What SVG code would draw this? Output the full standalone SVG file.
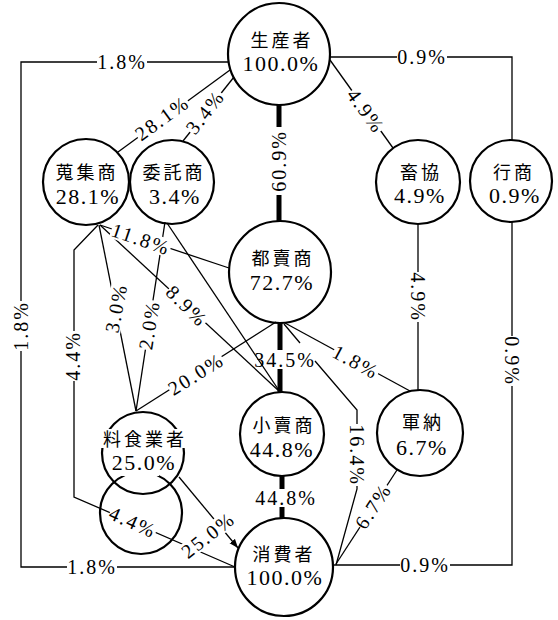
<svg xmlns="http://www.w3.org/2000/svg" width="558" height="620" viewBox="0 0 558 620">
<style>
.node circle{fill:none;stroke:#000;stroke-width:2.2}
.nm{font-family:"Liberation Serif","Noto Sans CJK JP",serif;font-size:18px;letter-spacing:3px;text-anchor:middle;fill:#000}
.pct{font-family:"Liberation Serif",serif;font-size:22px;letter-spacing:1.5px;text-anchor:middle;fill:#000}
.ln{fill:none;stroke:#000;stroke-width:1.3}
.bar{stroke:#000;stroke-width:5;fill:none}
.lb rect{fill:#fff}
.lb text,.lt{font-family:"Liberation Serif",serif;font-size:20px;letter-spacing:2px;text-anchor:middle;fill:#000}
.wb{fill:#fff}
</style>
<defs>
<marker id="arr" markerUnits="userSpaceOnUse" markerWidth="10" markerHeight="8" refX="9" refY="4" orient="auto">
<path d="M0,0.5 L9,4 L0,7.5 z" fill="#000"/>
</marker>
</defs>
<rect width="558" height="620" fill="#fff"/>
<g id="connectors">
<path class="ln" d="M229,62 L21,62 L21,567 L235,567"/>
<path class="ln" d="M330,57 L512,57 L512,140"/>
<path class="ln" d="M512,222 L512,565 L334,565"/>
<path class="ln" d="M330,60 L393,148"/>
<path class="ln" d="M418,224 L418,390"/>
<path class="ln" d="M118,152 L230,70"/>
<path class="ln" d="M183,141 L234,77"/>
<path class="ln" d="M229,268 L100,225"/>
<path class="ln" d="M100,225 L280,392"/>
<path class="ln" d="M167,223 L280,392"/>
<path class="ln" d="M99,225 L136,411"/>
<path class="ln" d="M165,222 L136,411"/>
<path class="ln" d="M136,411 L276,322"/>
<path class="ln" d="M285,323 L410,391"/>
<path class="ln" d="M284,324 L300,343 M315,361 L357,410 L357,489 L336,565"/>
<path class="ln" d="M397,470 L336,564"/>
<path class="ln" d="M179,477 L238,548" marker-end="url(#arr)"/>
<path class="ln" d="M98,225 L74,250 L74,497 L235,567"/>
<path class="bar" d="M279,105 L279,222"/>
<path class="bar" d="M280,323 L280,350 M280,369 L280,392"/>
<path class="bar" d="M282,476 L282,518"/>

<g class="lb" transform="translate(122,62)"><rect x="-25" y="-9" width="50" height="18"/><text y="7">1.8%</text></g>
<g class="lb" transform="translate(21,326) rotate(-90)"><rect x="-25" y="-9" width="50" height="18"/><text y="7">1.8%</text></g>
<g class="lb" transform="translate(92,567)"><rect x="-25" y="-9" width="50" height="18"/><text y="7">1.8%</text></g>
<g class="lb" transform="translate(422,57)"><rect x="-25" y="-9" width="50" height="18"/><text y="7">0.9%</text></g>
<g class="lb" transform="translate(512,361) rotate(90)"><rect x="-25" y="-9" width="50" height="18"/><text y="7">0.9%</text></g>
<g class="lb" transform="translate(425,565)"><rect x="-25" y="-9" width="50" height="18"/><text y="7">0.9%</text></g>
<g class="lb" transform="translate(366,111) rotate(54.4)"><rect x="-25" y="-9" width="50" height="18"/><text y="7">4.9%</text></g>
<g class="lb" transform="translate(418,297) rotate(90)"><rect x="-25" y="-9" width="50" height="18"/><text y="7">4.9%</text></g>
<g class="lb" transform="translate(162,118) rotate(-36)"><rect x="-31" y="-9" width="62" height="18"/><text y="7">28.1%</text></g>
<g class="lb" transform="translate(205,112) rotate(-52)"><rect x="-25" y="-9" width="50" height="18"/><text y="7">3.4%</text></g>
<g class="lb" transform="translate(141,239) rotate(19)"><rect x="-31" y="-9" width="62" height="18"/><text y="7">11.8%</text></g>
<g class="lb" transform="translate(187,306) rotate(45)"><rect x="-25" y="-9" width="50" height="18"/><text y="7">8.9%</text></g>
<g class="lb" transform="translate(116,308) rotate(-79)"><rect x="-25" y="-9" width="50" height="18"/><text y="7">3.0%</text></g>
<g class="lb" transform="translate(149,325) rotate(-81)"><rect x="-25" y="-9" width="50" height="18"/><text y="7">2.0%</text></g>
<g class="lb" transform="translate(196,374) rotate(-32)"><rect x="-31" y="-9" width="62" height="18"/><text y="7">20.0%</text></g>
<g class="lb" transform="translate(356,362) rotate(28.5)"><rect x="-25" y="-9" width="50" height="18"/><text y="7">1.8%</text></g>
<g class="lb" transform="translate(357,455) rotate(90)"><rect x="-31" y="-9" width="62" height="18"/><text y="7">16.4%</text></g>
<g class="lb" transform="translate(373,506) rotate(-57)"><rect x="-25" y="-9" width="50" height="18"/><text y="7">6.7%</text></g>
<g class="lb" transform="translate(279,161) rotate(-90)"><rect x="-34" y="-9" width="68" height="18"/><text y="7">60.9%</text></g>
<text class="lt" x="285" y="367">34.5%</text>
<g class="lb" transform="translate(286,498)"><rect x="-31" y="-9" width="62" height="18"/><text y="7">44.8%</text></g>
<g class="lb" transform="translate(208,535) rotate(-38)"><rect x="-31" y="-9" width="62" height="18"/><text y="7">25.0%</text></g>
<g class="lb" transform="translate(73,356) rotate(-90)"><rect x="-25" y="-9" width="50" height="18"/><text y="7">4.4%</text></g>
<g class="lb" transform="translate(133,522) rotate(24)"><rect x="-25" y="-9" width="50" height="18"/><text y="7">4.4%</text></g>
</g>

<g id="n-seisansha" class="node"><circle cx="279" cy="54" r="51"/><text class="nm" x="282" y="47">生産者</text><text class="pct" x="281" y="71">100.0%</text></g>
<g id="n-shushusho" class="node"><circle cx="86" cy="182" r="43"/><text class="nm" x="87" y="179">蒐集商</text><text class="pct" x="88" y="204">28.1%</text></g>
<g id="n-itakusho" class="node"><circle cx="172" cy="182" r="42"/><text class="nm" x="174" y="179">委託商</text><text class="pct" x="175" y="204">3.4%</text></g>
<g id="n-chikkyo" class="node"><circle cx="418" cy="182" r="42"/><text class="nm" x="421" y="179">畜協</text><text class="pct" x="420" y="203">4.9%</text></g>
<g id="n-gyosho" class="node"><circle cx="511" cy="181" r="41"/><text class="nm" x="514" y="179">行商</text><text class="pct" x="515" y="203">0.9%</text></g>
<g id="n-oroshi" class="node"><circle cx="280" cy="272" r="51"/><text class="nm" x="283" y="265">都賣商</text><text class="pct" x="282" y="290">72.7%</text></g>
<g id="n-kouri" class="node"><circle cx="282" cy="434" r="42"/><text class="nm" x="284" y="432">小賣商</text><text class="pct" x="282" y="457">44.8%</text></g>
<g id="n-gunno" class="node"><circle cx="420" cy="433" r="43"/><text class="nm" x="423" y="429">軍納</text><text class="pct" x="422" y="455">6.7%</text></g>
<g id="n-ryoshoku" class="node"><circle cx="141" cy="513" r="41"/><circle cx="143" cy="453" r="41"/><rect class="wb" x="100" y="429" width="88" height="19"/><rect class="wb" x="121" y="455" width="38" height="21"/><text class="nm" x="145" y="446">料食業者</text><text class="pct" x="144" y="470">25.0%</text></g>
<g id="n-shohisha" class="node"><circle cx="284" cy="567" r="49"/><text class="nm" x="284" y="561">消費者</text><text class="pct" x="285" y="585">100.0%</text></g>
</svg>
